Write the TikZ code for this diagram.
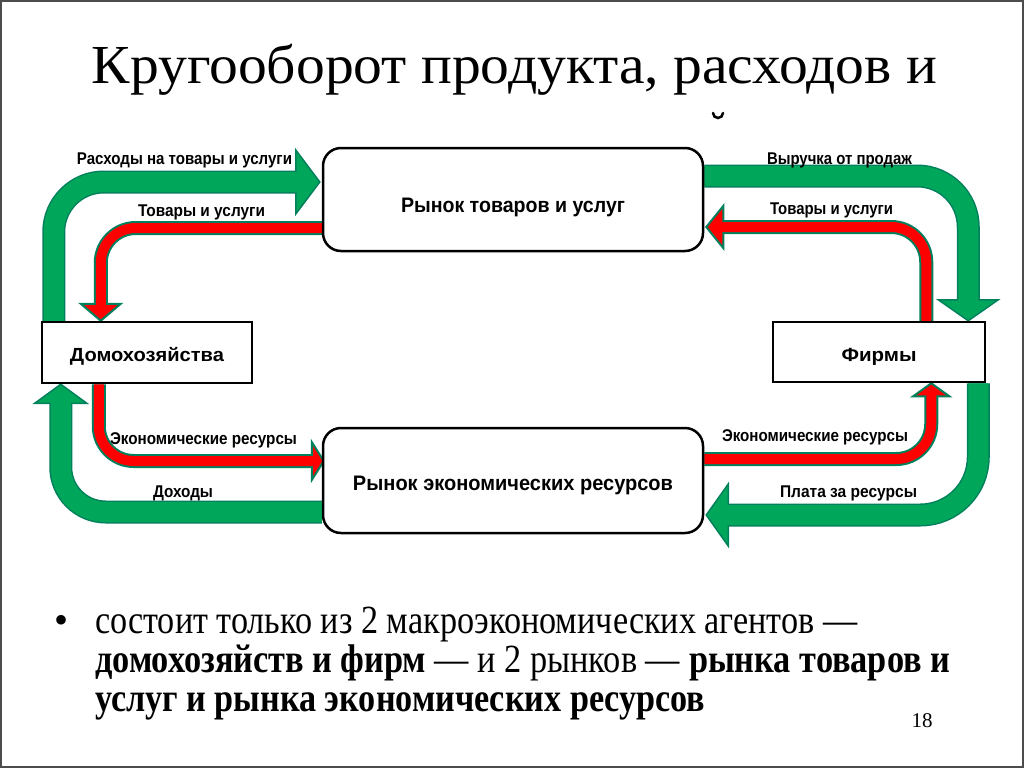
\documentclass[tikz,border=0pt]{standalone}
\usepackage{fontspec}
\setmainfont{Liberation Serif}
\setsansfont{Liberation Sans}
\usepackage{graphicx}
\usetikzlibrary{calc}
\definecolor{gfill}{RGB}{0,166,90}
\definecolor{gline}{RGB}{0,128,92}
\definecolor{rfill}{RGB}{255,0,0}
\newcommand\fitw[2]{\resizebox{#1pt}{\height}{#2}}
% #1 kind (g/r), #2 corner radius, #3 start, #4 corner, #5 head back, #6 tip, #7 head half width
\newcommand\barrow[7]{%
  \draw[#1out, rounded corners=#2pt] (#3) -- (#4) -- (#5);
  \filldraw[#1head] ($(#5)!#7pt!90:(#6)$) -- (#6) -- ($(#5)!#7pt!-90:(#6)$) -- cycle;
  \draw[#1in, rounded corners=#2pt] (#3) -- (#4) -- ($(#5)!2.5pt!(#6)$);
}
\pgfdeclarelayer{back}
\pgfdeclarelayer{bg}
\pgfsetlayers{back,bg,main}
\tikzset{
  gout/.style={draw=gline, line width=23pt},
  gin/.style={draw=gfill, line width=20pt},
  ghead/.style={fill=gfill, draw=gline, line width=1.5pt, line join=miter},
  rout/.style={draw=gline, line width=14pt},
  rin/.style={draw=rfill, line width=10pt},
  rhead/.style={fill=rfill, draw=gline, line width=2pt, line join=miter},
  mbox/.style={draw=black, line width=2.5pt, fill=white, rounded corners=18pt, inner sep=0pt,
    font=\sffamily\bfseries\fontsize{21}{21}\selectfont},
  abox/.style={draw=black, line width=2.5pt, fill=white, inner sep=0pt,
    font=\sffamily\bfseries\fontsize{19}{19}\selectfont},
  lbl/.style={font=\sffamily\bfseries\fontsize{17}{17}\selectfont, inner sep=0pt},
  txt/.style={inner sep=0pt},
}
\begin{document}
\begin{tikzpicture}[x=1pt,y=-1pt]
\useasboundingbox (0,0) rectangle (1024,768);
\begin{pgfonlayer}{back}
\fill[white] (0,0) rectangle (1024,768);
\draw[line width=2pt, black!70] (1,1) rectangle (1023,767);
\end{pgfonlayer}

% title
\node[txt, anchor=base] (title) at (514.5,84)
  {\fitw{845}{\fontsize{55}{55}\selectfont Кругооборот продукта, расходов и}};
\draw[line width=2.5pt, line cap=round] (723,113) arc[start angle=0, end angle=180, radius=5];

% boxes
\node[mbox, minimum width=380pt, minimum height=103pt, text height=25pt, text depth=0pt]
  (mt) at (513,199.5) {\fitw{224}{Рынок товаров и услуг}};
\node[mbox, minimum width=380pt, minimum height=105pt, text height=19pt, text depth=0pt]
  (mr) at (513,480.5) {\fitw{320}{Рынок экономических ресурсов}};
\node[abox, minimum width=210pt, minimum height=61pt, text height=18pt, text depth=0pt]
  (hh) at (147,352.5) {\fitw{154}{Домохозяйства}};
\node[abox, minimum width=212pt, minimum height=60pt, text height=19pt, text depth=0pt]
  (ff) at (879,352) {\fitw{75}{Фирмы}};

% arrow coordinates
\coordinate (g1s) at ($(hh.north west)+(13,0)$);
\coordinate (g1t) at ($(mt.west)+(-2,-17.5)$);
\coordinate (g1b) at ($(g1t)+(-24,0)$);
\coordinate (g1c) at (g1s |- g1t);

\coordinate (r1s) at ($(mt.west)+(0,28.5)$);
\coordinate (r1t) at ($(hh.north west)+(60,0)$);
\coordinate (r1b) at ($(r1t)+(0,-17)$);
\coordinate (r1c) at (r1t |- r1s);

\coordinate (g2s) at ($(mt.east)+(0,-23.5)$);
\coordinate (g2t) at ($(ff.north east)+(-18,0)$);
\coordinate (g2b) at ($(g2t)+(0,-21)$);
\coordinate (g2c) at (g2t |- g2s);

\coordinate (r2s) at ($(ff.north east)+(-60,0)$);
\coordinate (r2t) at ($(mt.east)+(2,27.5)$);
\coordinate (r2b) at ($(r2t)+(17,0)$);
\coordinate (r2c) at (r2s |- r2t);

\coordinate (r3s) at ($(hh.south west)+(58,0)$);
\coordinate (r3t) at ($(mr.west)+(2,-19.5)$);
\coordinate (r3b) at ($(r3t)+(-12,0)$);
\coordinate (r3c) at (r3s |- r3t);

\coordinate (g3s) at ($(mr.west)+(0,31.5)$);
\coordinate (g3t) at ($(hh.south west)+(20,0)$);
\coordinate (g3b) at ($(g3t)+(0,19)$);
\coordinate (g3c) at (g3t |- g3s);

\coordinate (r4s) at ($(mr.east)+(0,-21.5)$);
\coordinate (r4t) at ($(ff.south east)+(-55,0)$);
\coordinate (r4b) at ($(r4t)+(0,13)$);
\coordinate (r4c) at (r4t |- r4s);

\coordinate (g4s) at ($(ff.south east)+(-8,0)$);
\coordinate (g4t) at ($(mr.east)+(2,34.5)$);
\coordinate (g4b) at ($(g4t)+(22,0)$);
\coordinate (g4c) at (g4s |- g4t);

\begin{pgfonlayer}{bg}
\barrow{g}{50}{g1s}{g1c}{g1b}{g1t}{32}
\barrow{r}{35}{r1s}{r1c}{r1b}{r1t}{20}
\barrow{g}{51}{g2s}{g2c}{g2b}{g2t}{30}
\barrow{r}{35}{r2s}{r2c}{r2b}{r2t}{21}
\barrow{r}{35}{r3s}{r3c}{r3b}{r3t}{19}
\barrow{g}{45}{g3s}{g3c}{g3b}{g3t}{26}
\barrow{r}{35}{r4s}{r4c}{r4b}{r4t}{18}
\barrow{g}{58}{g4s}{g4c}{g4b}{g4t}{31}
\end{pgfonlayer}

% arrow labels
\node[lbl] (lg1) at (184.5,160) {\fitw{215}{Расходы на товары и услуги}};
\node[lbl] (lr1) at (201.5,212) {\fitw{127}{Товары и услуги}};
\node[lbl] (lg2) at (839.5,160) {\fitw{145}{Выручка от продаж}};
\node[lbl] (lr2) at (831.5,210) {\fitw{123}{Товары и услуги}};
\node[lbl] (lr3) at (203.5,440) {\fitw{187}{Экономические ресурсы}};
\node[lbl] (lg3) at (183,493) {\fitw{60}{Доходы}};
\node[lbl] (lr4) at (815,437) {\fitw{186}{Экономические ресурсы}};
\node[lbl] (lg4) at (848.5,493) {\fitw{137}{Плата за ресурсы}};

% bullet text
\node[txt, anchor=base] (bul) at (62,633) {\fontsize{40}{40}\selectfont •};
\node[txt, anchor=base west] (ln1) at (95,633)
  {\fitw{762}{\fontsize{40}{40}\selectfont состоит только из 2 макроэкономических агентов —}};
\node[txt, anchor=base west] (ln2) at (95,672)
  {\fitw{855}{\fontsize{40}{40}\selectfont\textbf{домохозяйств и фирм} — и 2 рынков — \textbf{рынка товаров и}}};
\node[txt, anchor=base west] (ln3) at (95,711)
  {\fitw{610}{\fontsize{40}{40}\selectfont\textbf{услуг и рынка экономических ресурсов}}};
\node[txt, anchor=base] (pg) at (922,727) {\fontsize{21}{21}\selectfont 18};
\end{tikzpicture}
\end{document}
